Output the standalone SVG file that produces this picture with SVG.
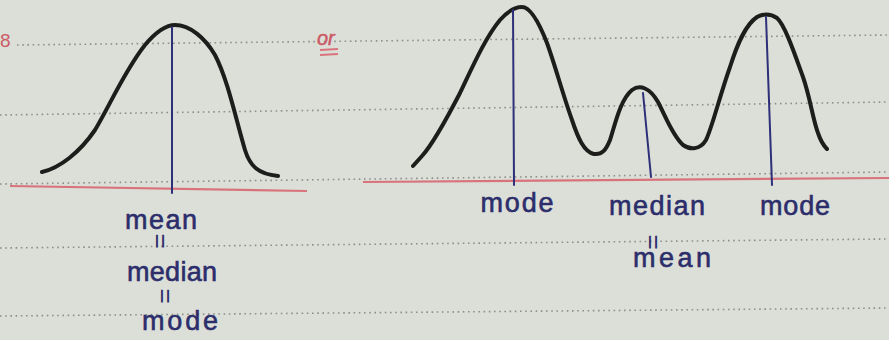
<svg xmlns="http://www.w3.org/2000/svg" width="889" height="340" viewBox="0 0 889 340">
<defs>
<style>
.dot{stroke:#8d908a;stroke-width:1.6;stroke-dasharray:1.6 3.6;fill:none}
.red{stroke:#d9737b;stroke-width:2.2;fill:none}
.curve{stroke:#1d1e1b;stroke-width:4;fill:none;stroke-linecap:round;stroke-linejoin:round}
.blue{stroke:#2d2f78;stroke-width:2;fill:none;stroke-linecap:round}
.lbl{font-family:"Liberation Sans",Arial,sans-serif;font-size:27px;fill:#2c2d6b;stroke:#2c2d6b;stroke-width:0.6;text-anchor:middle}
.eq{font-family:"Liberation Sans",Arial,sans-serif;font-size:26px;fill:#2c2d6b;text-anchor:middle}
.rtx{font-family:"Liberation Sans",Arial,sans-serif;fill:#cc5a66}
</style>
</defs>
<rect width="889" height="340" fill="#dcdfd8"/>
<g id="paper">
<line class="dot" x1="17" y1="45" x2="889" y2="35"/>
<line class="dot" x1="0" y1="115" x2="889" y2="102"/>
<line class="dot" x1="0" y1="184" x2="889" y2="172"/>
<line class="dot" x1="0" y1="248" x2="889" y2="239"/>
<line class="dot" x1="0" y1="316" x2="889" y2="308"/>
<line class="red" x1="10" y1="186" x2="307" y2="191"/>
<line class="red" x1="363" y1="182" x2="889" y2="178"/>
<text class="rtx" x="0" y="47" font-size="19">8</text>
<text class="rtx" x="317" y="45" font-size="20" font-style="italic" stroke="#cc5a66" stroke-width="0.5">or</text>
<line class="red" x1="320" y1="50" x2="338" y2="49" stroke-width="2"/>
<line class="red" x1="320" y1="55" x2="338" y2="54" stroke-width="2"/>
</g>
<g id="unimodal">
<path class="curve" d="M42,172 C60,168 80,152 95,130 C110,105 125,70 145,45 C155,33 165,25 175,25 C190,25 205,38 215,55 C228,80 236,120 245,150 C250,166 258,174 278,176"/>
<line class="blue" x1="172" y1="27" x2="172" y2="193"/>
<text class="lbl" x="161" y="229" textLength="72">mean</text>
<text class="eq" transform="translate(161,241) rotate(90)" dy="9">=</text>
<text class="lbl" x="172" y="281" textLength="90">median</text>
<text class="eq" transform="translate(166,296) rotate(90)" dy="9">=</text>
<text class="lbl" x="180" y="330" textLength="76">mode</text>
</g>
<g id="multimodal">
<path class="curve" d="M413,166 L422,156 C432,145 445,122 460,93 C472,68 485,38 500,20 C508,11 515,7 522,7 C530,7 538,20 547,43 C555,65 563,95 572,120 C578,138 584,152 594,154 C602,155 606,150 610,140 C615,125 620,100 632,90 C640,84 650,88 658,102 C665,115 672,135 683,145 C690,150 700,150 706,140 C712,128 720,95 730,67 C737,45 745,25 757,17 C762,14 770,13 777,18 C785,25 795,55 803,77 C810,97 813,120 818,133 C821,142 824,146 827,149"/>
</g>
<g id="connectors">
<line class="blue" x1="513" y1="10" x2="514" y2="185"/>
<line class="blue" x1="643" y1="93" x2="651" y2="177"/>
<line class="blue" x1="766" y1="17" x2="772" y2="185"/>
</g>
<g id="labels-right">
<text class="lbl" x="517" y="212" textLength="73">mode</text>
<text class="lbl" x="657" y="215" textLength="96">median</text>
<text class="eq" transform="translate(654,242) rotate(90)" dy="9">=</text>
<text class="lbl" x="672" y="267" textLength="78">mean</text>
<text class="lbl" x="795" y="215" textLength="70">mode</text>
</g>
</svg>
